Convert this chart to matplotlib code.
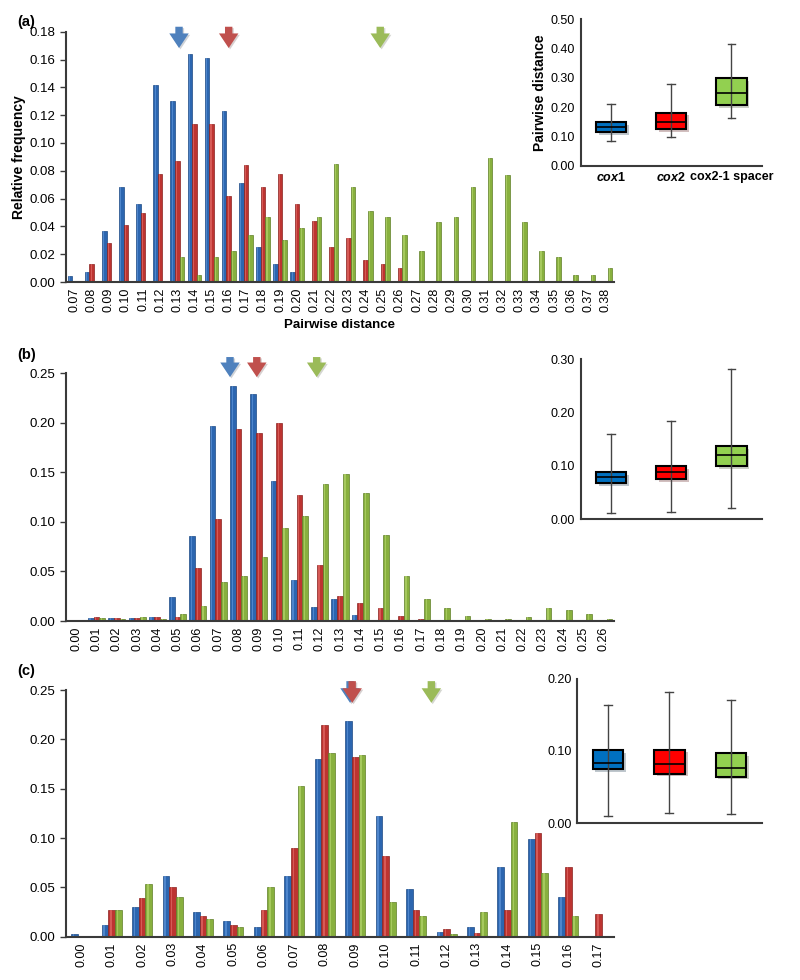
import numpy as np
import matplotlib.pyplot as plt
import matplotlib.patheffects as pe
from matplotlib.transforms import blended_transform_factory

plt.rcParams['font.family'] = ['Liberation Sans', 'DejaVu Sans']
plt.rcParams['mathtext.fontset'] = 'custom'
plt.rcParams['mathtext.rm'] = 'Liberation Sans'
plt.rcParams['mathtext.it'] = 'Liberation Sans:italic'
plt.rcParams['mathtext.bf'] = 'Liberation Sans:bold'
plt.rcParams['mathtext.bfit'] = 'Liberation Sans:italic:bold'

# Panel (a): cox1 / cox2 / cox2-1 spacer
a_labels = ['0.07', '0.08', '0.09', '0.10', '0.11', '0.12', '0.13', '0.14', '0.15', '0.16',
            '0.17', '0.18', '0.19', '0.20', '0.21', '0.22', '0.23', '0.24', '0.25', '0.26',
            '0.27', '0.28', '0.29', '0.30', '0.31', '0.32', '0.33', '0.34', '0.35', '0.36',
            '0.37', '0.38']
a_cox1 = [0.004, 0.007, 0.037, 0.068, 0.056, 0.142, 0.130, 0.164, 0.161, 0.123,
          0.071, 0.025, 0.013, 0.007, 0, 0, 0, 0, 0, 0,
          0, 0, 0, 0, 0, 0, 0, 0, 0, 0, 0, 0]
a_cox2 = [0, 0.013, 0.028, 0.041, 0.050, 0.078, 0.087, 0.114, 0.114, 0.062,
          0.084, 0.068, 0.078, 0.056, 0.044, 0.025, 0.032, 0.016, 0.013, 0.010,
          0, 0, 0, 0, 0, 0, 0, 0, 0, 0, 0, 0]
a_spacer = [0, 0, 0, 0, 0, 0, 0.018, 0.005, 0.018, 0.022,
            0.034, 0.047, 0.030, 0.039, 0.047, 0.085, 0.068, 0.051, 0.047, 0.034,
            0.022, 0.043, 0.047, 0.068, 0.089, 0.077, 0.043, 0.022, 0.018, 0.005,
            0.005, 0.010]
a_means = [6.1, 9.0, 17.85]  # arrow positions, category units
# whislo, q1, median, q3, whishi
a_box_cox1 = [0.084, 0.114, 0.133, 0.149, 0.212]
a_box_cox2 = [0.099, 0.125, 0.148, 0.181, 0.278]
a_box_spacer = [0.162, 0.206, 0.247, 0.300, 0.417]

# Panel (b)
b_labels = ['0.00', '0.01', '0.02', '0.03', '0.04', '0.05', '0.06', '0.07', '0.08', '0.09',
            '0.10', '0.11', '0.12', '0.13', '0.14', '0.15', '0.16', '0.17', '0.18', '0.19',
            '0.20', '0.21', '0.22', '0.23', '0.24', '0.25', '0.26']
b_cox1 = [0.0015, 0.003, 0.003, 0.003, 0.004, 0.024, 0.086, 0.197, 0.237, 0.229,
          0.141, 0.041, 0.014, 0.022, 0.006, 0.001, 0, 0, 0.0003, 0,
          0, 0, 0, 0, 0, 0, 0]
b_cox2 = [0.0005, 0.004, 0.003, 0.003, 0.004, 0.004, 0.054, 0.103, 0.194, 0.190,
          0.200, 0.127, 0.057, 0.025, 0.018, 0.013, 0.005, 0.002, 0, 0,
          0, 0, 0, 0, 0, 0, 0]
b_spacer = [0, 0.003, 0.002, 0.004, 0.002, 0.007, 0.015, 0.039, 0.045, 0.065,
            0.094, 0.106, 0.138, 0.148, 0.129, 0.087, 0.045, 0.022, 0.013, 0.005,
            0.002, 0.002, 0.004, 0.013, 0.011, 0.007, 0.002]
b_means = [7.58, 8.9, 11.85]
b_box_cox1 = [0.011, 0.068, 0.079, 0.088, 0.159]
b_box_cox2 = [0.0125, 0.075, 0.088, 0.099, 0.185]
b_box_spacer = [0.021, 0.099, 0.120, 0.137, 0.281]

# Panel (c)
c_labels = ['0.00', '0.01', '0.02', '0.03', '0.04', '0.05', '0.06', '0.07', '0.08', '0.09',
            '0.10', '0.11', '0.12', '0.13', '0.14', '0.15', '0.16', '0.17']
c_cox1 = [0.0024, 0.0115, 0.030, 0.061, 0.025, 0.0155, 0.010, 0.061, 0.180, 0.219,
          0.122, 0.048, 0.0044, 0.010, 0.071, 0.099, 0.0405, 0]
c_cox2 = [0, 0.027, 0.039, 0.050, 0.021, 0.012, 0.027, 0.0895, 0.215, 0.182,
          0.082, 0.027, 0.008, 0.004, 0.027, 0.105, 0.071, 0.0226]
c_spacer = [0, 0.027, 0.053, 0.0405, 0.0176, 0.010, 0.050, 0.153, 0.186, 0.184,
            0.035, 0.021, 0.0024, 0.025, 0.116, 0.065, 0.021, 0]
c_means = [8.83, 8.9, 11.5]
c_box_cox1 = [0.0097, 0.075, 0.084, 0.101, 0.164]
c_box_cox2 = [0.0143, 0.0687, 0.0816, 0.102, 0.182]
c_box_spacer = [0.0134, 0.0645, 0.0765, 0.0968, 0.171]

BAR_COLORS = ['#2c66b0', '#bd3431', '#88b03e']
BAR_EDGES = ['#1d4a85', '#8a2220', '#5f7f28']
BAR_SHINE = ['#4f86cc', '#d65a56', '#a6c95e']
ARROW_COLORS = ['#4f81bd', '#c0504d', '#9bbb59']
BOX_COLORS = ['#0070c0', '#ff0000', '#92d050']
AXIS_COLOR = '#3a3a3a'


def draw_hist(ax, labels, series, width, ymax, ystep, means, arrow_span):
    x = np.arange(len(labels))
    for k, vals in enumerate(series):
        xk = x + (k - 1) * width
        ax.bar(xk, vals, width, color=BAR_COLORS[k],
               edgecolor=BAR_EDGES[k], linewidth=0.5, zorder=2)
        # lighter strip gives the bars a bit of the 3D look of the original
        ax.bar(xk - width * 0.12, vals, width * 0.22, color=BAR_SHINE[k],
               linewidth=0, zorder=2.5)
    ax.set_xlim(-0.5, len(labels) - 0.5)
    ax.set_ylim(0, ymax)
    ax.set_yticks(np.arange(0, ymax + 1e-9, ystep))
    ax.yaxis.set_major_formatter('{x:.2f}')
    ax.set_xticks(x, labels, rotation=90)
    ax.tick_params(axis='x', length=0, pad=4, labelsize=9)
    ax.tick_params(axis='y', length=4, width=1, direction='out', labelsize=9.5, color=AXIS_COLOR)
    for s in ['top', 'right']:
        ax.spines[s].set_visible(False)
    for s in ['left', 'bottom']:
        ax.spines[s].set_linewidth(1.5)
        ax.spines[s].set_color(AXIS_COLOR)
    # arrows marking the mean distance of each marker
    trans = blended_transform_factory(ax.transData, ax.transAxes)
    for xpos, col in zip(means, ARROW_COLORS):
        ax.annotate('', xy=(xpos, arrow_span[1]), xytext=(xpos, arrow_span[0]),
                    xycoords=trans, textcoords=trans, annotation_clip=False,
                    arrowprops=dict(arrowstyle='simple,head_width=1.0,head_length=0.75,tail_width=0.38',
                                    color=col, lw=0, mutation_scale=14, shrinkA=0, shrinkB=0,
                                    path_effects=[pe.SimplePatchShadow(offset=(1, -1), alpha=0.2),
                                                  pe.Normal()]))


def draw_inset(ax, boxes, ymax, names=None, ylabel=None):
    stats = [dict(whislo=b[0], q1=b[1], med=b[2], q3=b[3], whishi=b[4]) for b in boxes]
    pos = [1, 2, 3]
    parts = ax.bxp(stats, positions=pos, widths=0.5, showfliers=False, patch_artist=True,
                   capwidths=0.13,
                   boxprops=dict(edgecolor='black', linewidth=1.5),
                   whiskerprops=dict(color='#444444', linewidth=1),
                   capprops=dict(color='#444444', linewidth=1),
                   medianprops=dict(color='black', linewidth=1.2))
    for patch, col in zip(parts['boxes'], BOX_COLORS):
        patch.set_facecolor(col)
        patch.set_path_effects([pe.SimplePatchShadow(offset=(2, -2), alpha=0.25), pe.Normal()])
    # whisker line runs through the box
    ax.vlines(pos, [b[1] for b in boxes], [b[3] for b in boxes], color='#444444',
              linewidth=1, zorder=3)
    for m in parts['medians']:
        m.set_zorder(4)
    ax.set_xlim(0.5, 3.5)
    ax.set_ylim(0, ymax)
    ax.set_yticks(np.arange(0, ymax + 1e-9, 0.1))
    ax.yaxis.set_major_formatter('{x:.2f}')
    if names:
        ax.set_xticks(pos, names, fontweight='bold', fontsize=9)
    else:
        ax.set_xticks([])
    ax.tick_params(axis='both', length=0, labelsize=9, pad=4)
    for s in ['top', 'right']:
        ax.spines[s].set_visible(False)
    for s in ['left', 'bottom']:
        ax.spines[s].set_linewidth(1.5)
        ax.spines[s].set_color(AXIS_COLOR)
    if ylabel:
        ax.set_ylabel(ylabel, fontweight='bold', fontsize=10, labelpad=3)


fig = plt.figure(figsize=(8, 9.8), dpi=100)

ax_a = fig.add_axes([0.0825, 0.7122, 0.685, 0.2554])
draw_hist(ax_a, a_labels, [a_cox1, a_cox2, a_spacer], 0.27, 0.18, 0.02, a_means, (1.02, 0.935))
ax_a.set_ylabel('Relative frequency', fontweight='bold', fontsize=10, labelpad=3)
ax_a.set_xlabel('Pairwise distance', fontweight='bold', fontsize=9.5, labelpad=5)

ax_b = fig.add_axes([0.0825, 0.3663, 0.685, 0.2527])
draw_hist(ax_b, b_labels, [b_cox1, b_cox2, b_spacer], 0.28, 0.25, 0.05, b_means, (1.066, 0.985))

ax_c = fig.add_axes([0.0825, 0.0442, 0.685, 0.2517])
draw_hist(ax_c, c_labels, [c_cox1, c_cox2, c_spacer], 0.22, 0.25, 0.05, c_means, (1.036, 0.948))

gene_names = [r'$\mathbfit{cox}$1', r'$\mathbfit{cox}$2', 'cox2-1 spacer']
in_a = fig.add_axes([0.726, 0.831, 0.226, 0.1494])
draw_inset(in_a, [a_box_cox1, a_box_cox2, a_box_spacer], 0.5, gene_names, 'Pairwise distance')
in_b = fig.add_axes([0.726, 0.4704, 0.226, 0.163])
draw_inset(in_b, [b_box_cox1, b_box_cox2, b_box_spacer], 0.3)
in_c = fig.add_axes([0.7215, 0.1599, 0.2305, 0.1476])
draw_inset(in_c, [c_box_cox1, c_box_cox2, c_box_spacer], 0.2)

for label, ypix in zip(['(a)', '(b)', '(c)'], [22, 355, 671]):
    fig.text(0.021, 1 - ypix / 980, label, fontweight='bold', fontsize=10.5, va='center')

fig.savefig('out.png', dpi=100)
